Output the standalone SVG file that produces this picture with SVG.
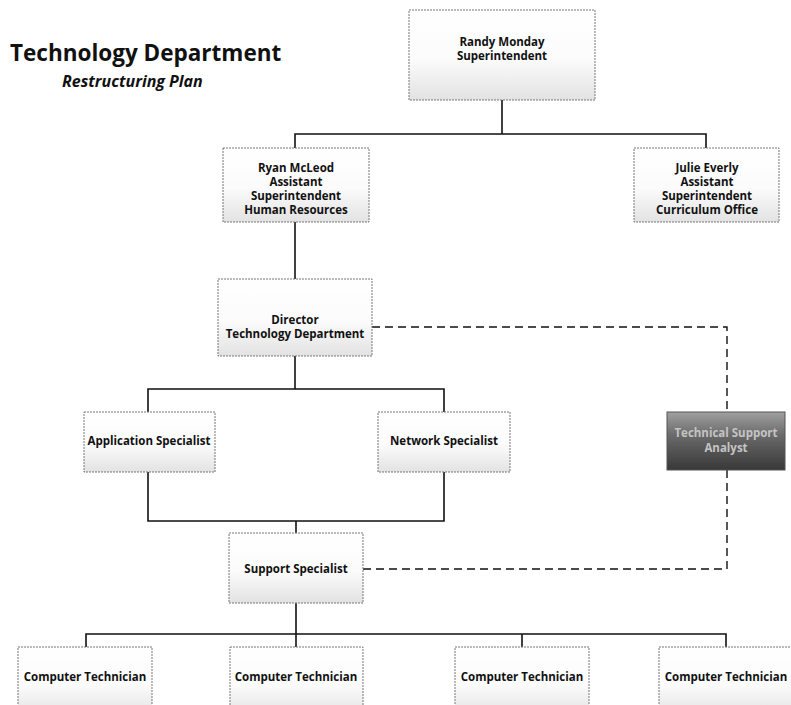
<svg xmlns="http://www.w3.org/2000/svg" width="791" height="705" viewBox="0 0 791 705">
<style>
.box{fill:url(#g);stroke:#777;stroke-width:1;stroke-dasharray:2 1}
.dark{fill:url(#gd);stroke:#555;stroke-width:1}
.t{font-family:"Open Sans","Liberation Sans",sans-serif;font-weight:bold;font-size:11.5px;fill:#111;text-anchor:middle}
.td{font-family:"Open Sans","Liberation Sans",sans-serif;font-weight:bold;font-size:11.5px;fill:#c4c4c4;text-anchor:middle}
.ln{fill:none;stroke:#111;stroke-width:1.6}
.dl{fill:none;stroke:#111;stroke-width:1.4;stroke-dasharray:8 5}
</style>
<defs>
<linearGradient id="g" x1="0" y1="0" x2="0" y2="1">
<stop offset="0" stop-color="#ffffff"/>
<stop offset="0.55" stop-color="#fbfbfb"/>
<stop offset="1" stop-color="#e2e2e2"/>
</linearGradient>
<linearGradient id="gd" x1="0" y1="0" x2="0" y2="1">
<stop offset="0" stop-color="#a0a0a0"/>
<stop offset="0.4" stop-color="#6a6a6a"/>
<stop offset="1" stop-color="#383838"/>
</linearGradient>
</defs>
<rect width="791" height="705" fill="#fff"/>
<g id="title">
<text x="10" y="61" font-family="'Open Sans','Liberation Sans',sans-serif" font-weight="bold" font-size="22.5" fill="#111">Technology Department</text>
<text x="62" y="87" font-family="'Open Sans','Liberation Sans',sans-serif" font-weight="bold" font-style="italic" font-size="16" fill="#111">Restructuring Plan</text>
</g>
<g id="connectors">
<polyline class="ln" points="502,100 502,134"/>
<polyline class="ln" points="295,148 295,134 706,134 706,148"/>
<polyline class="ln" points="295,222 295,279"/>
<polyline class="ln" points="295,356 295,389"/>
<polyline class="ln" points="148,412 148,389 444,389 444,412"/>
<polyline class="ln" points="148,472 148,521 444,521 444,472"/>
<polyline class="ln" points="296,521 296,533"/>
<polyline class="ln" points="296,603 296,634"/>
<polyline class="ln" points="86,647 86,634 726,634 726,647"/>
<polyline class="ln" points="296,634 296,647"/>
<polyline class="ln" points="522,634 522,647"/>
<polyline class="dl" points="372,327 727,327 727,412"/>
<polyline class="dl" points="727,470 727,569 363,569"/>
</g>
<g id="randy">
<rect class="box" x="409" y="10" width="186" height="90"/>
<text class="t" x="502" y="46">Randy Monday</text>
<text class="t" x="502" y="60">Superintendent</text>
</g>
<g id="ryan">
<rect class="box" x="223" y="148" width="146" height="74"/>
<text class="t" x="296" y="172">Ryan McLeod</text>
<text class="t" x="296" y="186">Assistant</text>
<text class="t" x="296" y="200">Superintendent</text>
<text class="t" x="296" y="214">Human Resources</text>
</g>
<g id="julie">
<rect class="box" x="634" y="148" width="145" height="74"/>
<text class="t" x="707" y="172">Julie Everly</text>
<text class="t" x="707" y="186">Assistant</text>
<text class="t" x="707" y="200">Superintendent</text>
<text class="t" x="707" y="214">Curriculum Office</text>
</g>
<g id="director">
<rect class="box" x="218" y="279" width="154" height="77"/>
<text class="t" x="295" y="324">Director</text>
<text class="t" x="295" y="338">Technology Department</text>
</g>
<g id="application">
<rect class="box" x="84" y="412" width="131" height="60"/>
<text class="t" x="149" y="445">Application Specialist</text>
</g>
<g id="network">
<rect class="box" x="378" y="412" width="132" height="60"/>
<text class="t" x="444" y="445">Network Specialist</text>
</g>
<g id="techsupport">
<rect class="dark" x="667" y="412" width="118" height="58"/>
<text class="td" x="726" y="437">Technical Support</text>
<text class="td" x="726" y="452">Analyst</text>
</g>
<g id="support">
<rect class="box" x="229" y="533" width="134" height="70"/>
<text class="t" x="296" y="573">Support Specialist</text>
</g>
<g id="tech1">
<rect class="box" x="18" y="647" width="134" height="70"/>
<text class="t" x="85" y="681">Computer Technician</text>
</g>
<g id="tech2">
<rect class="box" x="230" y="647" width="133" height="70"/>
<text class="t" x="296" y="681">Computer Technician</text>
</g>
<g id="tech3">
<rect class="box" x="455" y="647" width="134" height="70"/>
<text class="t" x="522" y="681">Computer Technician</text>
</g>
<g id="tech4">
<rect class="box" x="659" y="647" width="134" height="70"/>
<text class="t" x="726" y="681">Computer Technician</text>
</g>
</svg>
